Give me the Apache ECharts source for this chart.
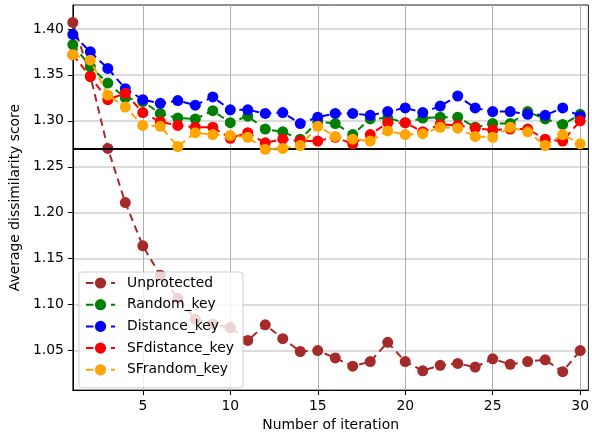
<!DOCTYPE html>
<html>
<head>
<meta charset="utf-8">
<script src="https://cdn.jsdelivr.net/npm/echarts@6/dist/echarts.min.js"></script>
<style>html,body{margin:0;padding:0;background:#fff}#chart{width:592px;height:437px}</style>
</head>
<body>
<div id="chart"></div>
<script>
const iterations = Array.from({length: 30}, (_, i) => i + 1);
const xTicks = [5, 10, 15, 20, 25, 30];
const yTicks = [1.05, 1.10, 1.15, 1.20, 1.25, 1.30, 1.35, 1.40];
const threshold = 1.267;

const unprotected = [1.407, 1.349, 1.270, 1.211, 1.164, 1.132, 1.107, 1.084, 1.079, 1.075, 1.061, 1.078, 1.063, 1.049, 1.050, 1.042, 1.033, 1.038, 1.059, 1.038, 1.028, 1.034, 1.036, 1.032, 1.041, 1.035, 1.038, 1.040, 1.027, 1.050];
const randomKey = [1.383, 1.359, 1.341, 1.325, 1.321, 1.308, 1.303, 1.302, 1.311, 1.298, 1.305, 1.291, 1.288, 1.280, 1.299, 1.297, 1.285, 1.302, 1.303, 1.298, 1.303, 1.304, 1.304, 1.293, 1.297, 1.297, 1.310, 1.302, 1.296, 1.307];
const distanceKey = [1.394, 1.375, 1.357, 1.335, 1.323, 1.319, 1.322, 1.317, 1.326, 1.312, 1.312, 1.308, 1.309, 1.297, 1.304, 1.308, 1.308, 1.306, 1.310, 1.314, 1.309, 1.316, 1.327, 1.314, 1.310, 1.310, 1.307, 1.306, 1.314, 1.305];
const sfDistanceKey = [1.372, 1.348, 1.323, 1.330, 1.309, 1.299, 1.295, 1.293, 1.293, 1.281, 1.287, 1.276, 1.280, 1.278, 1.278, 1.282, 1.275, 1.285, 1.298, 1.298, 1.288, 1.296, 1.295, 1.292, 1.290, 1.291, 1.291, 1.280, 1.278, 1.300];
const sfRandomKey = [1.372, 1.366, 1.328, 1.315, 1.295, 1.294, 1.272, 1.287, 1.285, 1.284, 1.282, 1.269, 1.270, 1.273, 1.294, 1.283, 1.280, 1.278, 1.289, 1.285, 1.286, 1.293, 1.292, 1.283, 1.282, 1.293, 1.288, 1.273, 1.285, 1.275];

const seriesNames = ['Unprotected', 'Random_key', 'Distance_key', 'SFdistance_key', 'SFrandom_key'];
const seriesValues = [unprotected, randomKey, distanceKey, sfDistanceKey, sfRandomKey];
const seriesColors = ['#a52a2a', '#008000', '#0000ff', '#ff0000', '#ffa500'];

const FONT = 'DejaVu Sans';
const FS = 13.9;

const series = seriesNames.map((name, k) => ({
  name: name,
  type: 'line',
  data: iterations.map((x, i) => [x, seriesValues[k][i]]),
  symbol: 'circle',
  symbolSize: 11,
  showAllSymbol: true,
  color: seriesColors[k],
  lineStyle: {width: 2, type: [7.5, 5], color: seriesColors[k]},
  itemStyle: {color: seriesColors[k]},
  emphasis: {disabled: true},
  animation: false,
  z: 3 + k
}));
series[4].markLine = {
  silent: true,
  symbol: 'none',
  label: {show: false},
  animation: false,
  lineStyle: {color: '#000', width: 2, type: 'solid'},
  data: [{yAxis: threshold}]
};

const chart = echarts.init(document.getElementById('chart'), null, {renderer: 'canvas'});
chart.setOption({
  animation: false,
  backgroundColor: '#fff',
  textStyle: {fontFamily: FONT},
  grid: {left: 72, right: 2, top: 5, bottom: 45, show: true, borderColor: '#222', borderWidth: 1, containLabel: false},
  xAxis: {
    type: 'value', min: 1, max: 30.47,
    name: 'Number of iteration', nameLocation: 'middle', nameGap: 25,
    nameTextStyle: {fontFamily: FONT, fontSize: FS, color: '#000'},
    axisLine: {show: true, onZero: false, lineStyle: {color: '#000', width: 1}},
    axisTick: {show: true, inside: false, length: 5, customValues: xTicks, lineStyle: {color: '#000'}},
    axisLabel: {show: true, margin: 9, customValues: xTicks, fontFamily: FONT, fontSize: FS, color: '#000'},
    splitLine: {show: true, lineStyle: {color: '#b0b0b0', width: 1}}
  },
  yAxis: {
    type: 'value', min: 1.007, max: 1.426,
    name: 'Average dissimilarity score', nameLocation: 'middle', nameGap: 47, nameRotate: 90,
    nameTextStyle: {fontFamily: FONT, fontSize: FS, color: '#000'},
    axisLine: {show: true, onZero: false, lineStyle: {color: '#000', width: 1}},
    axisTick: {show: true, inside: false, length: 5, customValues: yTicks, lineStyle: {color: '#000'}},
    axisLabel: {show: true, margin: 9, customValues: yTicks, fontFamily: FONT, fontSize: FS, color: '#000',
      formatter: v => v.toFixed(2)},
    splitLine: {show: true, lineStyle: {color: '#cfcfcf', width: 1.5}}
  },
  legend: {
    orient: 'vertical', left: 79, top: 272,
    data: seriesNames,
    itemWidth: 29, itemHeight: 14, itemGap: 7.7,
    padding: [4, 9, 11, 6],
    backgroundColor: 'rgba(255,255,255,0.8)',
    borderColor: '#d0d0d0', borderWidth: 1, borderRadius: 3,
    textStyle: {fontFamily: FONT, fontSize: FS, color: '#000', padding: [0, 0, 0, 7]},
    z: 20
  },
  series: series
});
</script>
</body>
</html>
